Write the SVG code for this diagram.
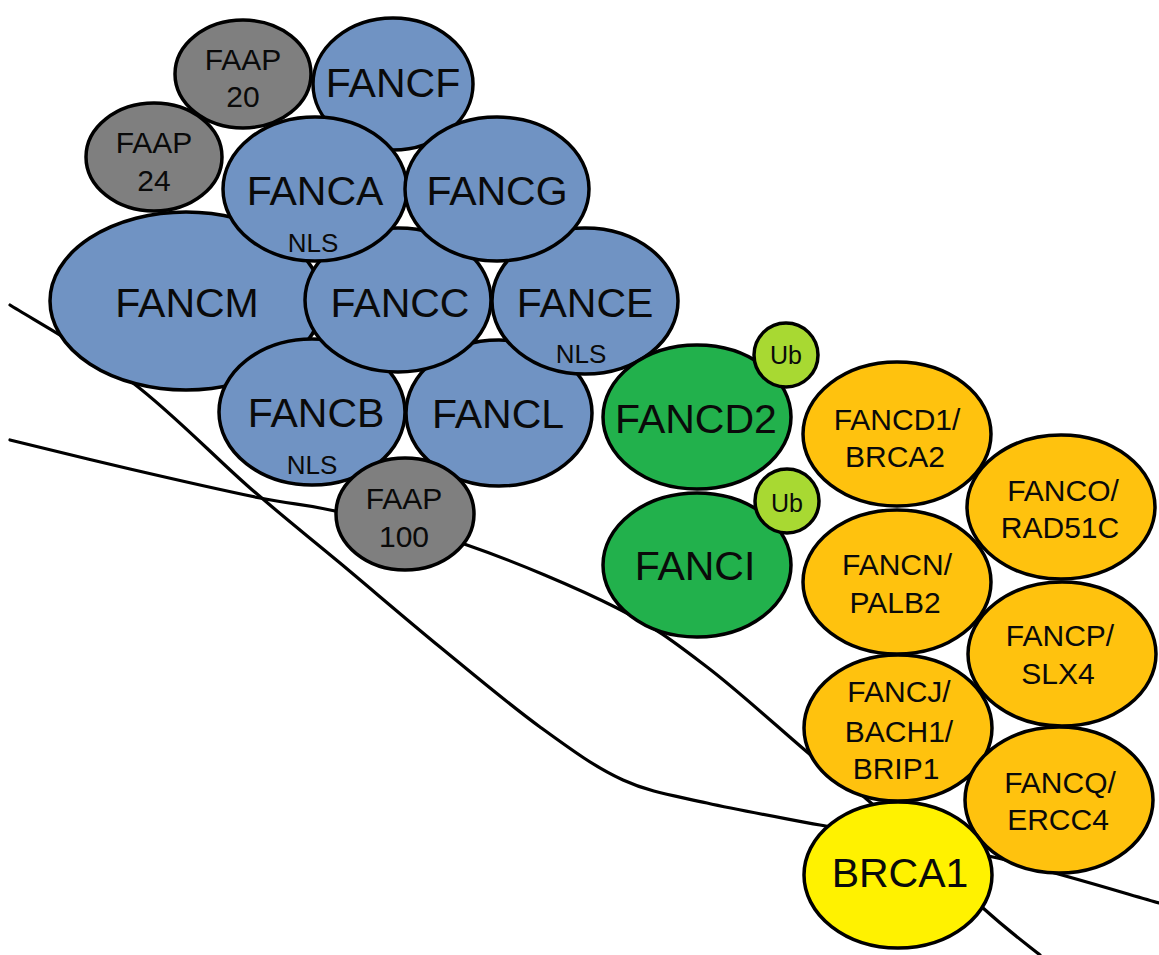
<svg xmlns="http://www.w3.org/2000/svg" width="1159" height="955" viewBox="0 0 1159 955">
<style>
.n{stroke:#000;stroke-width:3.5}
.b{fill:#7093C3}
.g{fill:#7F7F7F}
.d{fill:#22B14C}
.u{fill:#A8D932}
.o{fill:#FFC20E}
.y{fill:#FFF200}
text{font-family:"Liberation Sans",Arial,sans-serif;fill:#0a0a0a;text-anchor:middle}
.L{font-size:41px}
.M{font-size:30px}
.S{font-size:26px}
.U{font-size:25px}
.w{fill:none;stroke:#000;stroke-width:3.2;stroke-linecap:round}
</style>
<rect width="1159" height="955" fill="#fff"/>
<g id="connectors">
<path class="w" d="M10,305 C30.5,318 93,352.5 133,383 C173,413.5 215.5,458 250,488 C284.5,518 308.3,536.5 340,563 C371.7,589.5 406.7,619.7 440,647 C473.3,674.3 509.5,704.8 540,727 C570.5,749.2 595.2,767.3 623,780 C650.8,792.7 674.2,795.5 707,803 C739.8,810.5 772.3,816 820,825 C867.7,834 936.5,844 993,857 C1049.5,870 1131.3,895.3 1159,903"/>
<path class="w" d="M10,440 C30,444.8 88.3,459.3 130,469 C171.7,478.7 225.8,491 260,498 C294.2,505 300.5,503.2 335,511 C369.5,518.8 420,528.8 467,545 C514,561.2 577,587.7 617,608 C657,628.3 674.3,642.2 707,667 C739.7,691.8 785.8,734.5 813,757 C840.2,779.5 841.7,776.8 870,802 C898.3,827.2 954.7,882.5 983,908 C1011.3,933.5 1030.5,947.2 1040,955"/>
</g>
<g id="FAAP20"><ellipse class="n g" cx="243" cy="74" rx="68" ry="54"/><text class="M" x="243" y="70">FAAP</text><text class="M" x="243" y="107">20</text></g>
<g id="FAAP24"><ellipse class="n g" cx="154" cy="157" rx="68" ry="54"/><text class="M" x="154" y="153">FAAP</text><text class="M" x="154" y="191">24</text></g>
<g id="FANCF"><ellipse class="n b" cx="393" cy="84" rx="80" ry="66"/><text class="L" x="393" y="97">FANCF</text></g>
<g id="FANCM"><ellipse class="n b" cx="186" cy="301" rx="136" ry="89"/><text class="L" x="187" y="317">FANCM</text></g>
<g id="FANCB"><ellipse class="n b" cx="312" cy="412" rx="93" ry="73"/><text class="L" x="316" y="427">FANCB</text><text class="S" x="312" y="474">NLS</text></g>
<g id="FANCL"><ellipse class="n b" cx="499" cy="413" rx="93" ry="73"/><text class="L" x="498" y="428">FANCL</text></g>
<g id="FANCC"><ellipse class="n b" cx="398" cy="300" rx="93" ry="72"/><text class="L" x="400" y="317">FANCC</text></g>
<g id="FANCE"><ellipse class="n b" cx="585" cy="301" rx="93" ry="73"/><text class="L" x="585" y="317">FANCE</text><text class="S" x="581" y="363">NLS</text></g>
<g id="FANCA"><ellipse class="n b" cx="315" cy="189" rx="92" ry="72"/><text class="L" x="315" y="205">FANCA</text><text class="S" x="313" y="252">NLS</text></g>
<g id="FANCG"><ellipse class="n b" cx="497" cy="189" rx="92" ry="72"/><text class="L" x="497" y="205">FANCG</text></g>
<g id="FAAP100"><ellipse class="n g" cx="405" cy="514" rx="69" ry="56"/><text class="M" x="404" y="509">FAAP</text><text class="M" x="404" y="547">100</text></g>
<g id="FANCD2"><ellipse class="n d" cx="697" cy="417" rx="94" ry="72"/><text class="L" x="696" y="433">FANCD2</text></g>
<g id="Ub1"><circle class="n u" cx="786" cy="355" r="32"/><text class="U" x="786" y="364">Ub</text></g>
<g id="FANCI"><ellipse class="n d" cx="697" cy="565" rx="94" ry="72"/><text class="L" x="695" y="580">FANCI</text></g>
<g id="Ub2"><circle class="n u" cx="787" cy="501" r="32"/><text class="U" x="787" y="512">Ub</text></g>
<g id="FANCD1"><ellipse class="n o" cx="897" cy="434" rx="94" ry="72"/><text class="M" x="897" y="430">FANCD1/</text><text class="M" x="895" y="467">BRCA2</text></g>
<g id="FANCN"><ellipse class="n o" cx="897" cy="582" rx="94" ry="72"/><text class="M" x="897" y="575">FANCN/</text><text class="M" x="895" y="613">PALB2</text></g>
<g id="FANCJ"><ellipse class="n o" cx="898" cy="728" rx="94" ry="73"/><text class="M" x="899" y="702">FANCJ/</text><text class="M" x="899" y="742">BACH1/</text><text class="M" x="896" y="779">BRIP1</text></g>
<g id="FANCO"><ellipse class="n o" cx="1061" cy="507" rx="94" ry="72"/><text class="M" x="1063" y="501">FANCO/</text><text class="M" x="1060" y="538">RAD51C</text></g>
<g id="FANCP"><ellipse class="n o" cx="1062" cy="654" rx="94" ry="72"/><text class="M" x="1060" y="646">FANCP/</text><text class="M" x="1058" y="684">SLX4</text></g>
<g id="FANCQ"><ellipse class="n o" cx="1059" cy="800" rx="94" ry="73"/><text class="M" x="1060" y="793">FANCQ/</text><text class="M" x="1058" y="830">ERCC4</text></g>
<g id="BRCA1"><ellipse class="n y" cx="898" cy="875" rx="94" ry="73"/><text class="L" x="900" y="887">BRCA1</text></g>
</svg>
